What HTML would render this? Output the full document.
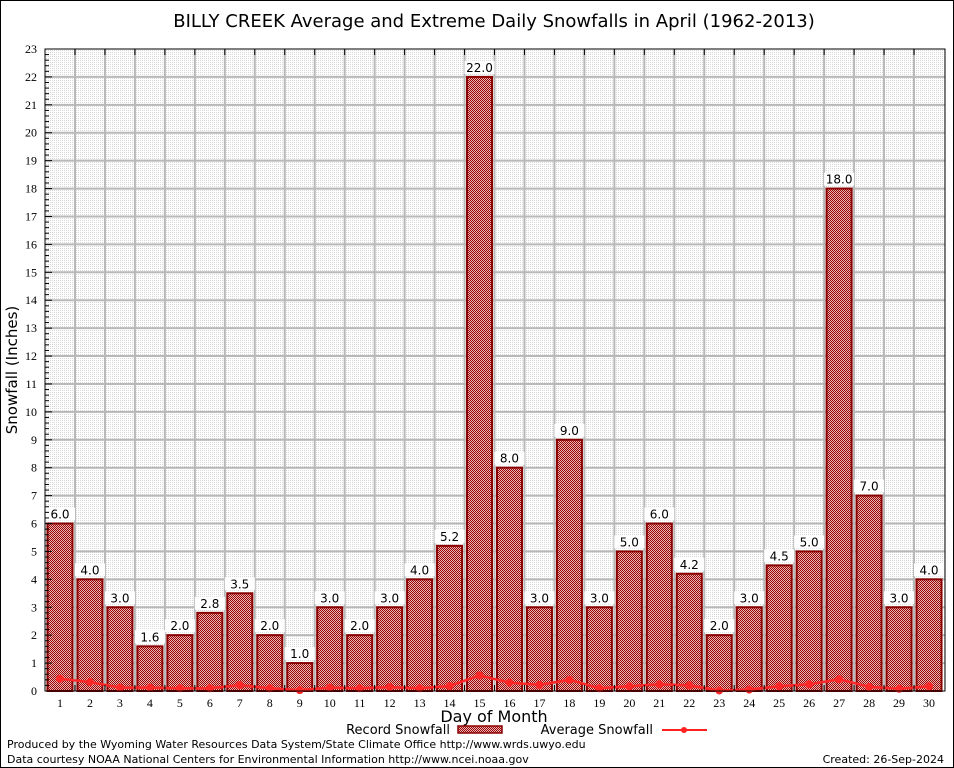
<!DOCTYPE html>
<html><head><meta charset="utf-8"><style>
html,body{margin:0;padding:0;background:#fff;}
svg{display:block;}
</style></head><body>
<svg id="chart" width="954" height="768" xmlns="http://www.w3.org/2000/svg">
<defs>
<pattern id="hatch" width="2" height="2" patternUnits="userSpaceOnUse">
<rect width="2" height="2" fill="#e8b8b8"/><rect width="1" height="1" fill="#9a0000"/><rect x="1" y="1" width="1" height="1" fill="#9a0000"/>
</pattern>
<pattern id="bgdots" width="2" height="2" patternUnits="userSpaceOnUse">
<rect width="2" height="2" fill="#ffffff"/><rect width="1" height="1" fill="#d8d8d8"/>
</pattern>
</defs>
<rect x="0.5" y="0.5" width="953" height="767" fill="#fff" stroke="#000"/>
<text x="494" y="27" font-family="DejaVu Sans, sans-serif" font-size="18" text-anchor="middle">BILLY CREEK Average and Extreme Daily Snowfalls in April (1962-2013)</text>
<rect x="45" y="49" width="900" height="642" fill="url(#bgdots)"/>
<g id="grid"></g>
<g id="bars"></g>
<g id="avg"></g>
<g id="axes"></g>
<rect x="45" y="49" width="900" height="642" fill="none" stroke="#000" stroke-width="1"/>
<text x="17" y="370" font-family="DejaVu Sans, sans-serif" font-size="15" text-anchor="middle" transform="rotate(-90 17 370)">Snowfall (Inches)</text>
<text x="494" y="722" font-family="DejaVu Sans, sans-serif" font-size="16" text-anchor="middle">Day of Month</text>
<g>
<text x="450" y="734" font-family="DejaVu Sans, sans-serif" font-size="13" text-anchor="end">Record Snowfall</text>
<rect x="458" y="726" width="44" height="7" fill="url(#hatch)" stroke="#8b0000" stroke-width="1.5"/>
</g>
<g>
<text x="653" y="734" font-family="DejaVu Sans, sans-serif" font-size="13" text-anchor="end">Average Snowfall</text>
<line x1="662" y1="730" x2="707" y2="730" stroke="#ff2020" stroke-width="2"/>
<circle cx="684" cy="730" r="3" fill="#ff2020"/>
</g>
<text x="7" y="748" font-family="DejaVu Sans, sans-serif" font-size="11">Produced by the Wyoming Water Resources Data System/State Climate Office http://www.wrds.uwyo.edu</text>
<text x="7" y="763" font-family="DejaVu Sans, sans-serif" font-size="11">Data courtesy NOAA National Centers for Environmental Information http://www.ncei.noaa.gov</text>
<text x="944" y="763" font-family="DejaVu Sans, sans-serif" font-size="11" text-anchor="end">Created: 26-Sep-2024</text>
</svg>
<script>
const days = [1,2,3,4,5,6,7,8,9,10,11,12,13,14,15,16,17,18,19,20,21,22,23,24,25,26,27,28,29,30];
const recordSnow = [6.0,4.0,3.0,1.6,2.0,2.8,3.5,2.0,1.0,3.0,2.0,3.0,4.0,5.2,22.0,8.0,3.0,9.0,3.0,5.0,6.0,4.2,2.0,3.0,4.5,5.0,18.0,7.0,3.0,4.0];
const avgSnow = [0.44,0.32,0.12,0.12,0.1,0.1,0.21,0.1,0.03,0.12,0.1,0.14,0.1,0.18,0.56,0.3,0.22,0.4,0.1,0.17,0.24,0.2,0.02,0.05,0.17,0.24,0.42,0.15,0.08,0.17];
const yTicks = [0,1,2,3,4,5,6,7,8,9,10,11,12,13,14,15,16,17,18,19,20,21,22,23];
const NS='http://www.w3.org/2000/svg';
const L=45,R=945,T=49,B=691,YMAX=23;
function xs(d){return 60+(d-1)*(929-60)/29;}
function ys(v){return B-v*(B-T)/YMAX;}
function mk(tag,attrs,parent){const e=document.createElementNS(NS,tag);for(const k in attrs)e.setAttribute(k,attrs[k]);parent.appendChild(e);return e;}
const grid=document.getElementById('grid'),bars=document.getElementById('bars'),avg=document.getElementById('avg'),axes=document.getElementById('axes');
const serif='Liberation Serif, serif', sans='DejaVu Sans, sans-serif';
yTicks.forEach(v=>{
  const y=ys(v);
  if(v>0&&v<YMAX){const g=mk('line',{x1:L,x2:R,y1:y,y2:y,stroke:'#b8b8b8','stroke-width':2},grid);
  
  }
  const t=mk('text',{x:L-8,y:y+4,'font-family':serif,'font-size':12,'text-anchor':'end'},axes);
  t.textContent=v;
  
  
  mk('line',{x1:L,x2:L+7,y1:y,y2:y,stroke:'#000'},axes);
  if(v<YMAX){for(let k=1;k<5;k++){const yy=ys(v+k*0.2);mk('line',{x1:L,x2:L+4,y1:yy,y2:yy,stroke:'#000'},axes);}}
});
days.forEach((d,i)=>{
  if(i<days.length-1){const gx=(xs(d)+xs(days[i+1]))/2;
  const g=mk('line',{x1:gx,x2:gx,y1:T,y2:B,stroke:'#b8b8b8','stroke-width':2},grid);
  
  
  mk('line',{x1:gx,x2:gx,y1:B,y2:B-6,stroke:'#000'},axes);
  mk('line',{x1:gx,x2:gx,y1:T,y2:T+6,stroke:'#000'},axes);}
  const t=mk('text',{x:xs(d),y:B+16,'font-family':serif,'font-size':12,'text-anchor':'middle'},axes);
  t.textContent=d;
  
  
});
days.forEach((d,i)=>{
  const v=recordSnow[i],x=xs(d)-12.5,y=ys(v);
  const r=mk('rect',{x:x,y:y,width:25,height:B-y,fill:'url(#hatch)',stroke:'#8b0000','stroke-width':2},bars);
  
  
  mk('rect',{x:xs(d)-15,y:y-16,width:30,height:13,fill:'#fff'},bars);
  const t=mk('text',{x:xs(d),y:y-5,'font-family':sans,'font-size':12,'text-anchor':'middle'},bars);
  t.textContent=v.toFixed(1);
  
  
});
const pts=days.map((d,i)=>xs(d)+','+ys(avgSnow[i])).join(' ');
const pl=mk('polyline',{points:pts,fill:'none',stroke:'#ff2828','stroke-width':2.5},avg);


days.forEach((d,i)=>{
  const c=mk('circle',{cx:xs(d),cy:ys(avgSnow[i]),r:4,fill:'#ff2828'},avg);
  
  
});
</script>
</body></html>
